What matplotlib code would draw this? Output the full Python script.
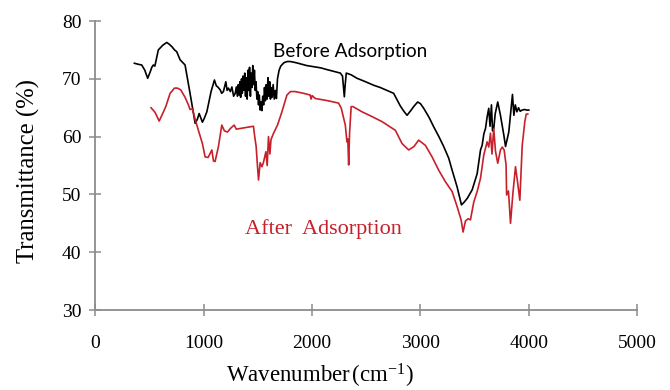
import matplotlib
matplotlib.use("Agg")
import matplotlib.pyplot as plt

# FTIR spectrum of the adsorbent before adsorption (wavenumber cm-1, transmittance %)
before_wn = [359, 400, 427, 455, 482, 505, 520, 534, 548, 580, 620, 658, 680, 704, 730,
             750, 781, 827, 873, 920, 940, 957, 987, 1005, 1028, 1067, 1098, 1115, 1129,
             1151, 1165, 1181, 1203, 1215, 1227, 1245, 1259, 1275, 1290, 1300, 1310, 1318,
             1325, 1333, 1340, 1348, 1355, 1362, 1370, 1378, 1385, 1392, 1400, 1408, 1415,
             1422, 1430, 1437, 1445, 1452, 1460, 1467, 1475, 1482, 1490, 1497, 1505, 1512,
             1520, 1528, 1536, 1544, 1552, 1560, 1568, 1576, 1584, 1592, 1600, 1608, 1615,
             1622, 1630, 1640, 1650, 1660, 1670, 1680, 1695, 1710, 1740, 1770, 1798, 1850,
             1890, 1950, 2013, 2080, 2137, 2200, 2260, 2280, 2290, 2297, 2305, 2315, 2360,
             2414, 2480, 2567, 2629, 2690, 2752, 2814, 2850, 2876, 2910, 2937, 2974, 3000,
             3030, 3080, 3122, 3170, 3214, 3260, 3292, 3338, 3378, 3400, 3431, 3477, 3523,
             3554, 3569, 3585, 3600, 3615, 3630, 3642, 3655, 3665, 3676, 3690, 3713, 3738,
             3769, 3785, 3815, 3840, 3849, 3862, 3875, 3890, 3905, 3920, 3939, 3960, 3980,
             4000]
before_t = [72.7, 72.5, 72.4, 71.5, 70.1, 71.2, 72.0, 72.4, 72.2, 75.0, 75.8, 76.3, 76.0,
            75.6, 75.0, 74.7, 73.3, 72.4, 67.5, 62.3, 63.0, 64.0, 62.5, 63.2, 64.3, 67.8,
            69.8, 68.8, 68.6, 68.1, 67.5, 67.8, 69.5, 68.0, 68.4, 67.8, 68.6, 67.0, 67.5,
            68.6, 67.0, 69.0, 67.2, 69.5, 66.8, 70.0, 67.5, 70.5, 68.0, 71.0, 67.0, 70.2,
            66.5, 71.5, 68.0, 72.0, 67.0, 71.0, 68.5, 72.3, 69.0, 71.5, 68.0, 69.5, 66.5,
            67.8, 65.5, 67.2, 64.6, 66.0, 64.5, 67.0, 65.5, 68.5, 66.2, 69.0, 66.5, 70.2,
            67.0, 69.5, 66.5, 68.5, 66.8, 69.0, 66.5, 68.0, 66.6, 70.0, 71.5, 72.2, 72.8,
            73.0, 73.0, 72.8, 72.6, 72.3, 72.1, 71.9, 71.6, 71.3, 71.0, 70.5, 68.5, 66.9,
            69.0, 71.0, 70.7, 70.1, 69.6, 68.9, 68.5, 68.0, 67.5, 65.3, 64.3, 63.7, 64.5,
            65.2, 66.0, 65.7, 64.9, 63.3, 61.7, 60.0, 58.3, 56.3, 54.2, 51.3, 48.2, 48.6,
            49.3, 50.8, 53.6, 57.7, 58.5, 60.5, 61.4, 63.4, 64.9, 61.8, 65.5, 61.0, 61.4,
            64.0, 66.0, 63.7, 60.3, 58.3, 60.8, 65.5, 67.3, 63.7, 65.5, 64.3, 65.0, 64.4,
            64.6, 64.7, 64.6, 64.6]

# FTIR spectrum after adsorption
after_wn = [513, 550, 588, 618, 649, 689, 729, 756, 787, 827, 858, 873, 895, 920, 950,
            987, 1012, 1040, 1074, 1089, 1104, 1135, 1166, 1190, 1218, 1250, 1280, 1300,
            1458, 1470, 1483, 1495, 1505, 1520, 1536, 1550, 1573, 1585, 1597, 1610, 1620,
            1644, 1680, 1721, 1767, 1800, 1844, 1920, 1982, 1990, 2000, 2029, 2150, 2244,
            2269, 2306, 2321, 2329, 2337, 2345, 2360, 2377, 2460, 2550, 2645, 2768, 2830,
            2891, 2940, 2983, 3045, 3107, 3168, 3230, 3292, 3338, 3375, 3393, 3415, 3440,
            3461, 3492, 3523, 3554, 3584, 3615, 3630, 3646, 3660, 3676, 3692, 3713, 3738,
            3755, 3772, 3790, 3795, 3812, 3831, 3852, 3877, 3897, 3917, 3939, 3963, 3976,
            3990]
after_t = [65.0, 64.2, 62.7, 63.9, 65.2, 67.5, 68.4, 68.4, 68.1, 66.8, 65.5, 64.7, 64.8,
           63.0, 61.1, 58.8, 56.5, 56.4, 57.7, 55.8, 55.7, 58.3, 62.0, 61.0, 60.8, 61.5,
           62.0, 61.3, 61.8, 60.0, 58.3, 55.0, 52.5, 55.5, 54.8, 55.5, 57.4, 55.0, 60.0,
           57.0, 59.5, 60.6, 62.0, 64.3, 67.2, 67.8, 67.8, 67.5, 67.2, 66.5, 67.1, 66.6,
           66.2, 65.8, 64.9, 62.0, 59.1, 59.6, 55.1, 60.5, 65.2, 65.2, 64.3, 63.5, 62.6,
           61.1, 58.8, 57.7, 58.3, 59.4, 58.5, 56.5, 54.2, 52.2, 50.5, 47.9, 45.6, 43.5,
           45.4, 45.8, 45.6, 48.7, 50.5, 52.8, 56.8, 59.1, 58.2, 60.6, 57.0, 61.4, 57.5,
           55.4, 57.7, 58.2, 57.7, 55.1, 49.9, 50.6, 45.0, 50.0, 54.8, 52.0, 49.0, 58.5,
           62.6, 63.9, 63.9]

x_ticks = [0, 1000, 2000, 3000, 4000, 5000]
y_ticks = [30, 40, 50, 60, 70, 80]

serif = ["Liberation Serif", "DejaVu Serif"]
plt.rcParams["mathtext.fontset"] = "custom"
plt.rcParams["mathtext.rm"] = "Liberation Serif"
plt.rcParams["mathtext.it"] = "Liberation Serif:italic"
axis_grey = "#8c8c8c"
red = "#c8202a"

fig = plt.figure(figsize=(6.7, 3.9), dpi=100)
ax = fig.add_axes([0.1425, 0.205, 0.8085, 0.741])

ax.plot(before_wn, before_t, color="black", lw=1.2, solid_joinstyle="round")
ax.plot(after_wn, after_t, color=red, lw=1.2, solid_joinstyle="round")

ax.set_xlim(0, 5000)
ax.set_ylim(30, 80)
ax.set_xticks(x_ticks)
ax.set_yticks(y_ticks)

for side in ("top", "right"):
    ax.spines[side].set_visible(False)
for side in ("left", "bottom"):
    ax.spines[side].set_color(axis_grey)
    ax.spines[side].set_linewidth(1.3)

ax.tick_params(direction="inout", length=8, width=1.1, color=axis_grey,
               labelsize=14, labelcolor="black")
ax.tick_params(axis="x", pad=14)
ax.tick_params(axis="y", pad=6)
for lbl in ax.get_xticklabels() + ax.get_yticklabels():
    lbl.set_family(serif)

ax.set_xlabel(r"Wavenumber$\,$(cm$^{\mathregular{-1}}$)", family=serif, fontsize=16.5)
ax.xaxis.set_label_coords(0.414, -0.228)
ax.xaxis.label.set_va("center")
ax.set_ylabel("Transmittance (%)", family=serif, fontsize=17.8)
ax.yaxis.set_label_coords(-0.1246, 0.481)
ax.yaxis.label.set_va("center")

ax.text(2352, 73.8, "Before Adsorption", family=["Lato", "DejaVu Sans"],
        fontsize=13.7, color="black", ha="center", va="baseline")
ax.text(2100, 43.1, "After  Adsorption", family=serif,
        fontsize=16, color=red, ha="center", va="baseline")

fig.savefig("out.png", dpi=100)
